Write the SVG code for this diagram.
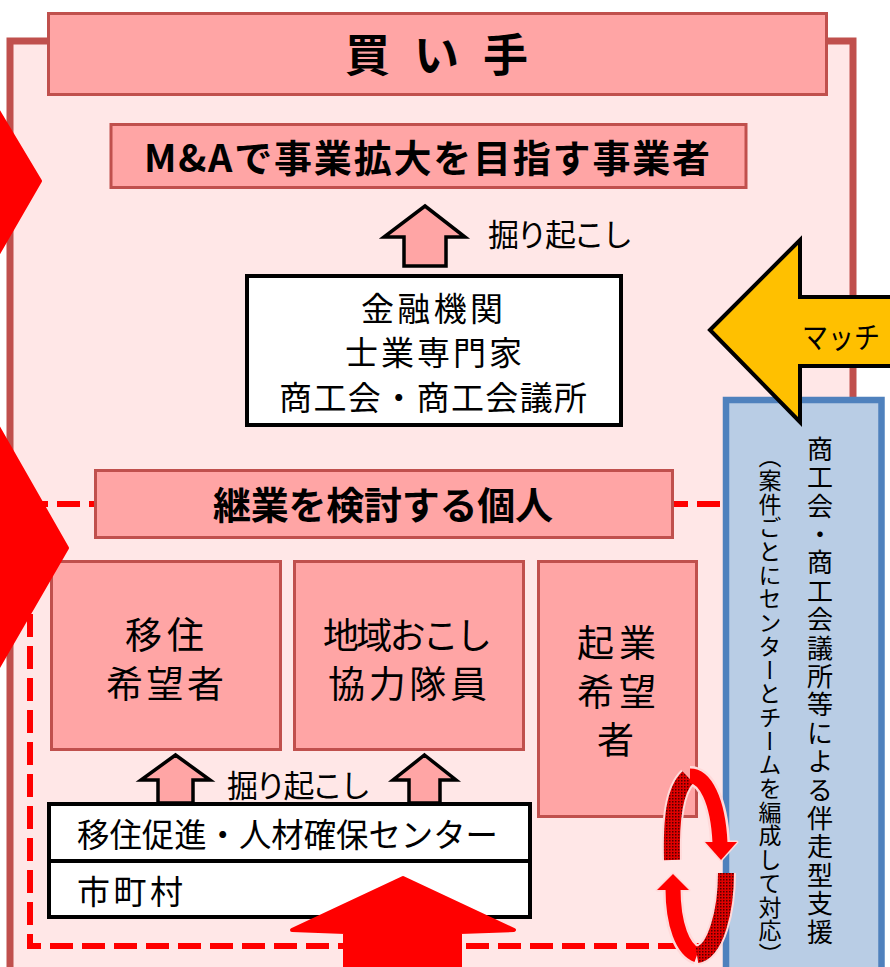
<svg xmlns="http://www.w3.org/2000/svg" width="890" height="967" viewBox="0 0 890 967">
<style>
text{font-family:"Noto Sans CJK JP","Noto Sans",sans-serif;fill:#000}
.b{font-weight:bold}
.pink{fill:#FFA5A5;stroke:#C0504D;stroke-width:3}
.white{fill:#FFFFFF;stroke:#000;stroke-width:4}
.up{fill:#FFA5A5;stroke:#000;stroke-width:3.5;stroke-linejoin:miter}
.red{fill:#FF0000;stroke:#FF0000;stroke-width:4;stroke-linejoin:round}
.dash{fill:none;stroke:#FF0000;stroke-width:6;stroke-dasharray:23 9}
.mid{text-anchor:middle}
</style>
<defs>
<pattern id="hatch" width="3" height="3" patternUnits="userSpaceOnUse">
<rect width="3" height="3" fill="#E00000"/><rect width="1.5" height="1.5" fill="#500000"/>
</pattern>
</defs>

<g id="buyer-frame">
<rect x="10" y="41" width="843" height="940" fill="#FFE7E7" stroke="#C0504D" stroke-width="7"/>
</g>

<g id="connectors">
<path class="dash" d="M720,504 H30 V946 H720"/>
</g>

<g id="header">
<rect class="pink" x="48.5" y="13.5" width="778" height="81"/>
<text class="b mid" x="436.5" y="72" font-size="45" textLength="183" lengthAdjust="spacing">買 い 手</text>
</g>

<g id="ma">
<rect class="pink" x="111" y="124.5" width="635" height="63"/>
<text class="b" x="144" y="172" font-size="38" textLength="566" lengthAdjust="spacing">M&amp;Aで事業拡大を目指す事業者</text>
</g>

<g id="arrow-top">
<polygon class="up" points="425,206 465,237 446,237 446,266 404,266 404,237 384,237"/>
<text x="488" y="246" font-size="31" textLength="145" lengthAdjust="spacing">掘り起こし</text>
</g>

<g id="support-orgs">
<rect class="white" x="247" y="276" width="374" height="149"/>
<text x="361" y="321" font-size="33" textLength="142" lengthAdjust="spacing">金融機関</text>
<text x="345" y="365" font-size="33" textLength="177" lengthAdjust="spacing">士業専門家</text>
<text x="279" y="410" font-size="33" textLength="308" lengthAdjust="spacing">商工会・商工会議所</text>
</g>

<g id="individuals">
<rect class="pink" x="95.5" y="470.5" width="577" height="67"/>
<text class="b" x="213" y="519" font-size="38" textLength="340" lengthAdjust="spacing">継業を検討する個人</text>
</g>

<g id="migrants">
<rect class="pink" x="51.5" y="561.5" width="229" height="188"/>
<text x="125" y="649" font-size="37" textLength="79" lengthAdjust="spacing">移住</text>
<text x="106" y="698" font-size="37" textLength="118" lengthAdjust="spacing">希望者</text>
</g>

<g id="chiiki">
<rect class="pink" x="294.5" y="561.5" width="229" height="188"/>
<text x="323" y="649" font-size="36" textLength="169" lengthAdjust="spacing">地域おこし</text>
<text x="328" y="698" font-size="37" textLength="159" lengthAdjust="spacing">協力隊員</text>
</g>

<g id="startup">
<rect class="pink" x="538.5" y="561.5" width="158" height="255"/>
<text x="577" y="657" font-size="37" textLength="79" lengthAdjust="spacing">起業</text>
<text x="577" y="706" font-size="37" textLength="79" lengthAdjust="spacing">希望</text>
<text x="597" y="754" font-size="37">者</text>
</g>

<g id="arrows-small">
<polygon class="up" points="175.5,755 210,780 193,780 193,803 158,803 158,780 141,780"/>
<polygon class="up" points="424.5,755 456,780 440,780 440,803 409,803 409,780 393,780"/>
<text x="227" y="797" font-size="31" textLength="144" lengthAdjust="spacing">掘り起こし</text>
</g>

<g id="center-box">
<rect class="white" x="49" y="804" width="481" height="113"/>
<line x1="49" y1="861" x2="530" y2="861" stroke="#000" stroke-width="4"/>
<text x="77" y="847" font-size="33" textLength="421" lengthAdjust="spacingAndGlyphs">移住促進・人材確保センター</text>
<text x="77" y="904" font-size="33" textLength="106" lengthAdjust="spacing">市町村</text>
</g>

<g id="big-arrow">
<polygon class="red" points="403,878 514,930 460,932 460,975 345,975 345,932 292,930"/>
</g>

<g id="left-arrows">
<polygon class="red" points="-30,64 40,181 -30,302"/>
<polygon class="red" points="-30,378 67,548 -30,716"/>
</g>

<g id="support-team">
<rect x="726" y="400" width="155.5" height="600" fill="#B9CDE5" stroke="#4F81BD" stroke-width="6.5"/>
<text x="820" y="436" font-size="26" letter-spacing="2.4" style="writing-mode:vertical-rl">商工会・商工会議所等による伴走型支援</text>
<text x="770" y="445" font-size="23" letter-spacing="0.7" style="writing-mode:vertical-rl">（案件ごとにセンターとチームを編成して対応）</text>
</g>

<g id="matching">
<polygon points="710,330 800,240 800,297 900,297 900,366 800,366 800,422" fill="#FFC000" stroke="#000" stroke-width="4"/>
<text x="802" y="348" font-size="30" textLength="78" lengthAdjust="spacingAndGlyphs">マッチ</text>
</g>

<g id="cycle">
<g fill="none" stroke="#FFDADA" stroke-width="20" stroke-linecap="butt">
<path d="M672,860 C671,820 674,790 688,777"/>
<path d="M690,776 C705,776 718,800 720,842"/>
<path d="M673,889 C673,925 683,950 697,955"/>
<path d="M697,955 C716,952 726,910 726,873"/>
</g>
<polygon points="705,842 737,842 721,860" fill="#FF0000" stroke="#FFDADA" stroke-width="3" stroke-linejoin="round"/>
<polygon points="657,890 689,890 673,874" fill="#FF0000" stroke="#FFDADA" stroke-width="3" stroke-linejoin="round"/>
<path d="M672,860 C671,820 674,790 688,777" fill="none" stroke="url(#hatch)" stroke-width="16"/>
<path d="M690,776 C705,776 718,800 720,843" fill="none" stroke="#FF0000" stroke-width="15"/>
<path d="M673,888 C673,925 683,950 697,955" fill="none" stroke="#FF0000" stroke-width="15"/>
<path d="M697,955 C716,952 726,910 726,873" fill="none" stroke="url(#hatch)" stroke-width="16"/>
<polygon points="705,842 737,842 721,860" fill="#FF0000"/>
<polygon points="657,890 689,890 673,874" fill="#FF0000"/>
</g>
</svg>
